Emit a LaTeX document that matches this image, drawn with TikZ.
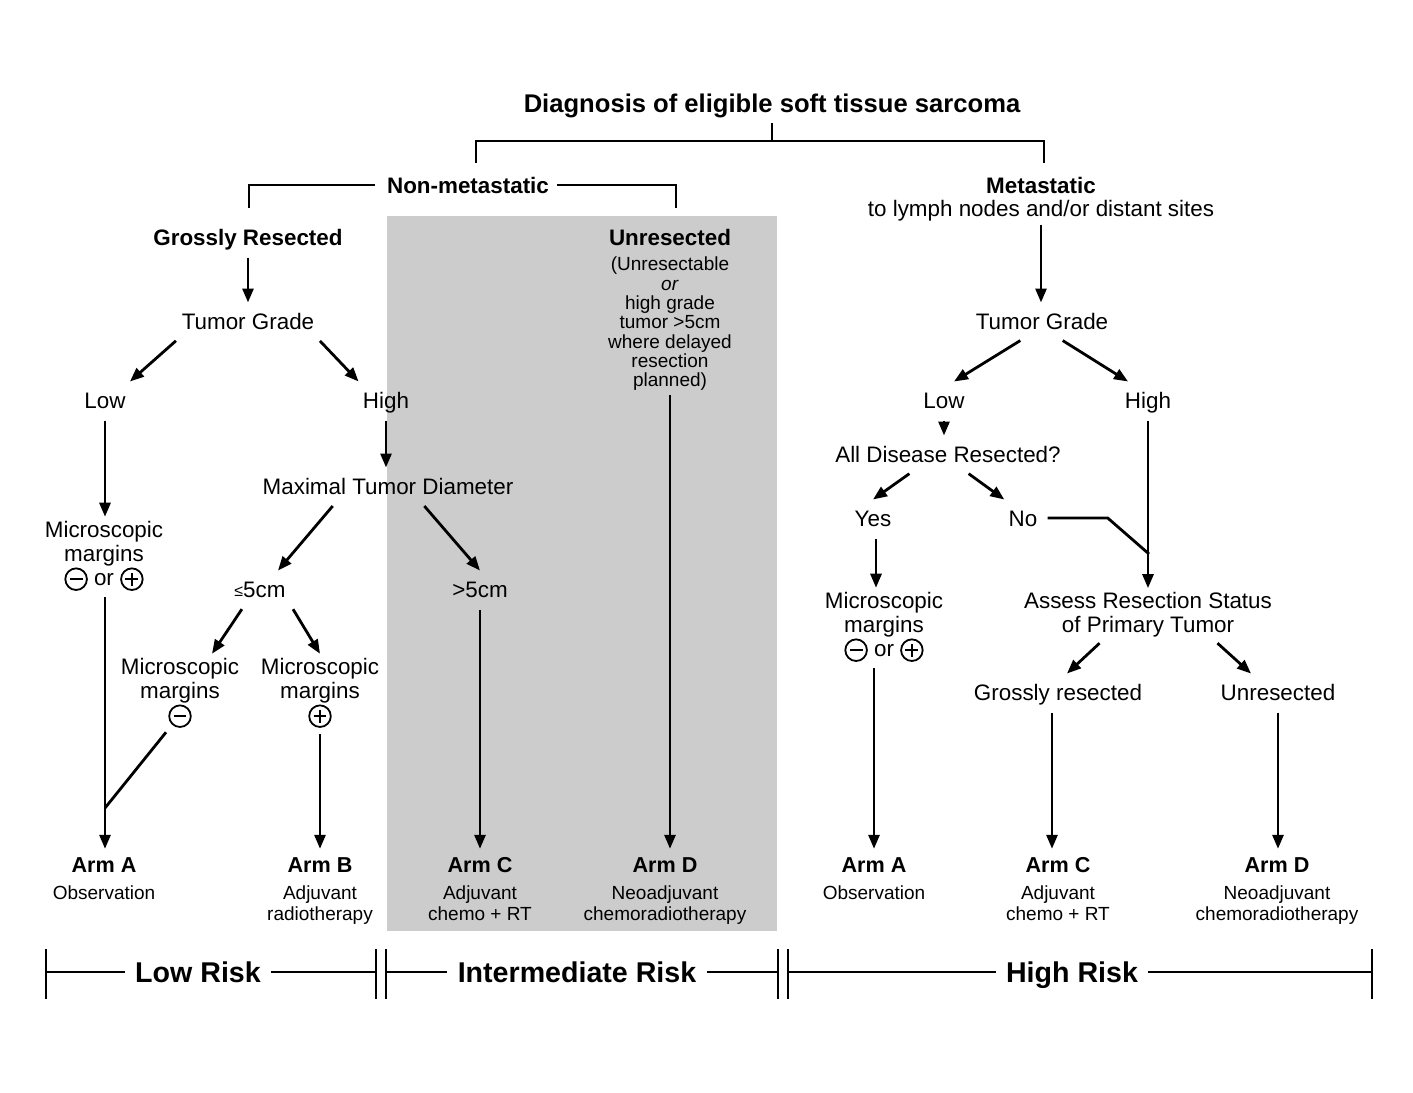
\documentclass[tikz,border=0pt]{standalone}
\usepackage{fontspec}
\setmainfont{Liberation Sans}
\usetikzlibrary{arrows.meta,positioning}
\newcommand{\cmin}{\tikz[baseline=-3.1pt,x=1pt,y=1pt,line width=0.9pt]{\draw (0,0) circle (5.4pt); \draw (-3.2pt,0) -- (3.2pt,0);}}
\newcommand{\cpls}{\tikz[baseline=-3.1pt,x=1pt,y=1pt,line width=0.9pt]{\draw (0,0) circle (5.4pt); \draw (-3.2pt,0) -- (3.2pt,0) (0,-3.2pt) -- (0,3.2pt);}}
\newcommand{\smle}{\raisebox{0.5pt}{\fontsize{8}{8}\selectfont ≤}}
\tikzset{
	lbl/.style={inner xsep=2pt, inner ysep=5pt, text height=8.1pt, text depth=0pt, font=\fontsize{11.2}{12}\selectfont},
	bld/.style={lbl, font=\fontsize{11.2}{12}\selectfont\bfseries},
	multi/.style={inner sep=2pt, align=center, font=\fontsize{11.2}{12}\selectfont},
	armlbl/.style={inner xsep=2pt, inner ysep=4pt, text height=7.8pt, text depth=0pt, font=\fontsize{10.8}{12}\selectfont\bfseries},
	armtxt/.style={inner sep=1pt, align=center, font=\fontsize{9.5}{10.5}\selectfont},
	risk/.style={inner xsep=5pt, inner ysep=3pt, text height=10.3pt, text depth=0pt, font=\fontsize{14.3}{15}\selectfont\bfseries},
	arr/.style={line width=1.4pt, shorten <=1pt, -{Triangle[length=7pt,width=5.5pt]}},
	ln/.style={line width=1.4pt},
	bar/.style={line width=0.9pt}
}
\begin{document}
\begin{tikzpicture}[x=0.5pt,y=-0.5pt,node distance=1pt]
	\useasboundingbox (0,0) rectangle (1413,1092);
	\fill[white] (0,0) rectangle (1413,1092);
	\fill[black!20] (387,216) rectangle (777,931);

	\node[bld, font=\fontsize{12.8}{14}\selectfont\bfseries, text height=9.2pt] (diag) at (772,103) {Diagnosis of eligible soft tissue sarcoma};
	\draw[ln] (476,163) |- (1044,141) -- (1044,163);
	\draw[ln] (772,141) -- (diag.south);

	\node[bld] (nonmet) at (468,185) {Non-metastatic};
	\draw[ln, shorten <=4pt] (nonmet.west) -| (249,208);
	\draw[ln, shorten <=2pt] (nonmet.east) -| (676,208);
	\node[bld] (met) at (1041,185) {Metastatic};
	\node[lbl, inner ysep=3pt] (metsub) at (1041,208) {to lymph nodes and/or distant sites};

	\node[bld] (gross) at (248,237) {Grossly Resected};
	\node[lbl] (tgL) at (248,321) {Tumor Grade};
	\node[lbl] (lowL) at (105,400) {Low};
	\node[lbl] (highL) at (386,400) {High};
	\node[multi] (microL) at (104,556) {Microscopic\\margins\\\cmin\ or \cpls};
	\node[lbl] (maxd) at (388,486) {Maximal Tumor Diameter};
	\node[lbl] (le5) at (260,589) {\smle5cm};
	\node[lbl] (gt5) at (480,589) {>5cm};
	\node[multi] (microM) at (180,693) {Microscopic\\margins\\\cmin};
	\node[multi] (microP) at (320,693) {Microscopic\\margins\\\cpls};
	\node[bld] (unres) at (670,237) {Unresected};
	\node[armtxt, font=\fontsize{9.5}{9.67}\selectfont] (unressub) at (670,324) {(Unresectable\\\textit{or}\\high grade\\tumor >5cm\\where delayed\\resection\\planned)};

	\draw[arr] (gross.south) -- (tgL.north);
	\draw[arr] (tgL.south west) -- (lowL.north east);
	\draw[arr] (tgL.south east) -- (highL.north west);
	\draw[arr] (lowL.south) -- (lowL.south |- microL.north);
	\draw[arr] (highL.south) -- (highL.south |- maxd.north);
	\draw[arr] ([xshift=-27pt]maxd.south) -- ([xshift=9pt]le5.north);
	\draw[arr] ([xshift=17.5pt]maxd.south) -- (gt5.north);
	\draw[arr] ([xshift=-8.5pt]le5.south) -- ([xshift=16pt]microM.north);
	\draw[arr] ([xshift=16pt]le5.south) -- (microP.north);

	\node[armlbl] (armAL) at (104,865) {Arm A};
	\node[armtxt, below=of armAL] (obsL) {Observation};
	\node[armlbl] (armB) at (320,865) {Arm B};
	\node[armtxt, below=of armB] (armBtxt) {Adjuvant\\radiotherapy};
	\node[armlbl] (armCL) at (480,865) {Arm C};
	\node[armtxt, below=of armCL] (armCLtxt) {Adjuvant\\chemo + RT};
	\node[armlbl] (armDL) at (665,865) {Arm D};
	\node[armtxt, below=of armDL] (armDLtxt) {Neoadjuvant\\chemoradiotherapy};

	\coordinate (joinL) at (105,808);
	\draw[arr] (lowL.south |- microL.south) -- (lowL.south |- armAL.north);
	\draw[ln] ([xshift=-7pt]microM.south) -- (joinL);
	\draw[arr] (microP.south) -- (armB.north);
	\draw[arr] (gt5.south) -- (armCL.north);
	\draw[arr] (unressub.south) -- (unressub.south |- armDL.north);

	\node[lbl] (tgR) at (1042,321) {Tumor Grade};
	\node[lbl] (lowR) at (944,400) {Low};
	\node[lbl] (highR) at (1148,400) {High};
	\node[lbl] (alld) at (948,454) {All Disease Resected?};
	\node[lbl] (yes) at (873,518) {Yes};
	\node[lbl] (no) at (1023,518) {No};
	\node[multi] (microR) at (884,627) {Microscopic\\margins\\\cmin\ or \cpls};
	\node[multi] (assess) at (1148,615) {Assess Resection Status\\of Primary Tumor};
	\node[lbl] (grossR) at (1058,692) {Grossly resected};
	\node[lbl] (unresR) at (1278,692) {Unresected};

	\draw[arr] (metsub.south) -- (metsub.south |- tgR.north);
	\draw[arr] ([xshift=-10pt]tgR.south) -- ([xshift=5pt]lowR.north);
	\draw[arr] ([xshift=9.5pt]tgR.south) -- ([xshift=-10pt]highR.north);
	\draw[arr] (lowR.south) -- (lowR.south |- alld.north);
	\draw[arr] ([xshift=-18.5pt]alld.south) -- (yes.north);
	\draw[arr] ([xshift=9.5pt]alld.south) -- (no.north west);
	\draw[arr] ([xshift=1.5pt]yes.south) -- ([xshift=1.5pt]yes.south |- microR.north);
	\coordinate (joinR) at (1149,554);
	\draw[arr] (highR.south) -- (highR.south |- assess.north);
	\draw[ln, shorten <=3pt] (no.east) -- ++(66,0) -- (joinR);
	\draw[arr] ([xshift=-23.5pt]assess.south) -- ([xshift=4.5pt]grossR.north);
	\draw[arr] ([xshift=34pt]assess.south) -- ([xshift=-13.5pt]unresR.north);

	\node[armlbl] (armAR) at (874,865) {Arm A};
	\node[armtxt, below=of armAR] (obsR) {Observation};
	\node[armlbl] (armCR) at (1058,865) {Arm C};
	\node[armtxt, below=of armCR] (armCRtxt) {Adjuvant\\chemo + RT};
	\node[armlbl] (armDR) at (1277,865) {Arm D};
	\node[armtxt, below=of armDR] (armDRtxt) {Neoadjuvant\\chemoradiotherapy};

	\draw[arr] (microR.south -| armAR) -- (armAR.north);
	\draw[arr] ([xshift=-3pt]grossR.south) -- ([xshift=-3pt]armCR.north);
	\draw[arr] (unresR.south) -- (unresR.south |- armDR.north);

	\node[risk] (lowrisk) at (198,972) {Low Risk};
	\node[risk] (intrisk) at (577,972) {Intermediate Risk};
	\node[risk] (highrisk) at (1072,972) {High Risk};
	\foreach \x in {46,376,386,778,788,1372}
		\draw[bar] (\x,949) -- (\x,999);
	\draw[bar] (46,972) -- (lowrisk) -- (376,972);
	\draw[bar] (386,972) -- (intrisk) -- (778,972);
	\draw[bar] (788,972) -- (highrisk) -- (1372,972);
\end{tikzpicture}
\end{document}
